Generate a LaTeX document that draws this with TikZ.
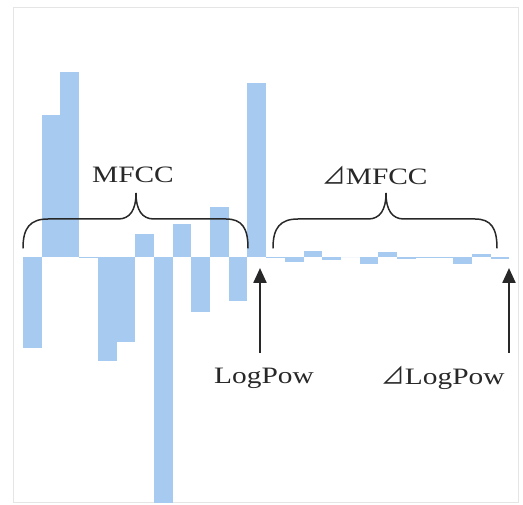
\documentclass[tikz,border=0pt]{standalone}
\usepackage{fontspec}
\setmainfont{Liberation Serif}[FakeStretch=1.25]
\newfontfamily\trifont{Noto Sans CJK JP}
\newcommand{\dlt}{{\trifont ⊿}}
\usetikzlibrary{positioning,arrows.meta,calc}
\definecolor{barblue}{RGB}{166,202,240}
\definecolor{inkgray}{RGB}{40,40,40}
\tikzset{
  bar/.style={fill=barblue, draw=none},
  brace/.style={draw=inkgray, line width=1.5pt, line cap=round},
  pointer/.style={draw=inkgray, line width=2.3pt, -{Triangle[length=15pt,width=13pt]}},
  lbl/.style={text=inkgray, font=\fontsize{23.5}{27}\selectfont, inner sep=0pt}
}

\begin{document}
\begin{tikzpicture}[x=1pt,y=-1pt]
  \useasboundingbox (0,0) rectangle (523,505);
  \draw[black!10, line width=1pt] (13,8) rectangle (518,503);

  % coefficient bars, baseline at y=257
  \foreach \i/\h in {1/-91, 2/142, 3/185, 4/-1.5, 5/-104, 6/-85, 7/23, 8/-246,
                     9/33, 10/-55, 11/50, 12/-44, 13/174,
                     14/-1, 15/-5, 16/6, 17/-3, 18/0, 19/-7, 20/5, 21/-2,
                     22/-1, 23/-1.5, 24/-7, 25/3, 26/-2} {
    \fill[bar] ({23+(\i-1)*18.7},257) rectangle ({23+\i*18.7},{257-\h});
  }

  \node[lbl] (mfcc) at (133,175) {MFCC};
  \node[lbl] (dmfcc) at (375,175) {\dlt MFCC};
  \node[lbl] (logpow) at (264,378) {LogPow};
  \node[lbl] (dlogpow) at (443,378) {\dlt LogPow};

  % braces
  \draw[brace] (23,248) .. controls (23,228) and (30,219) .. (48,219) -- (118,219)
    .. controls (130,219) and (136,210) .. (136,193)
    .. controls (136,210) and (142,219) .. (154,219) -- (226,219)
    .. controls (242,219) and (248,228) .. (248,248);
  \draw[brace] (273,248) .. controls (273,228) and (280,219) .. (298,219) -- (368,219)
    .. controls (380,219) and (386,210) .. (386,193)
    .. controls (386,210) and (392,219) .. (404,219) -- (475,219)
    .. controls (491,219) and (497,228) .. (497,248);

  \coordinate (lpfoot) at (260,353);
  \coordinate (lphead) at (260,268);
  \coordinate (dlpfoot) at (509,353);
  \coordinate (dlphead) at (509,268);
  \draw[pointer] (lpfoot) -- (lphead);
  \draw[pointer] (dlpfoot) -- (dlphead);

\end{tikzpicture}
\end{document}
